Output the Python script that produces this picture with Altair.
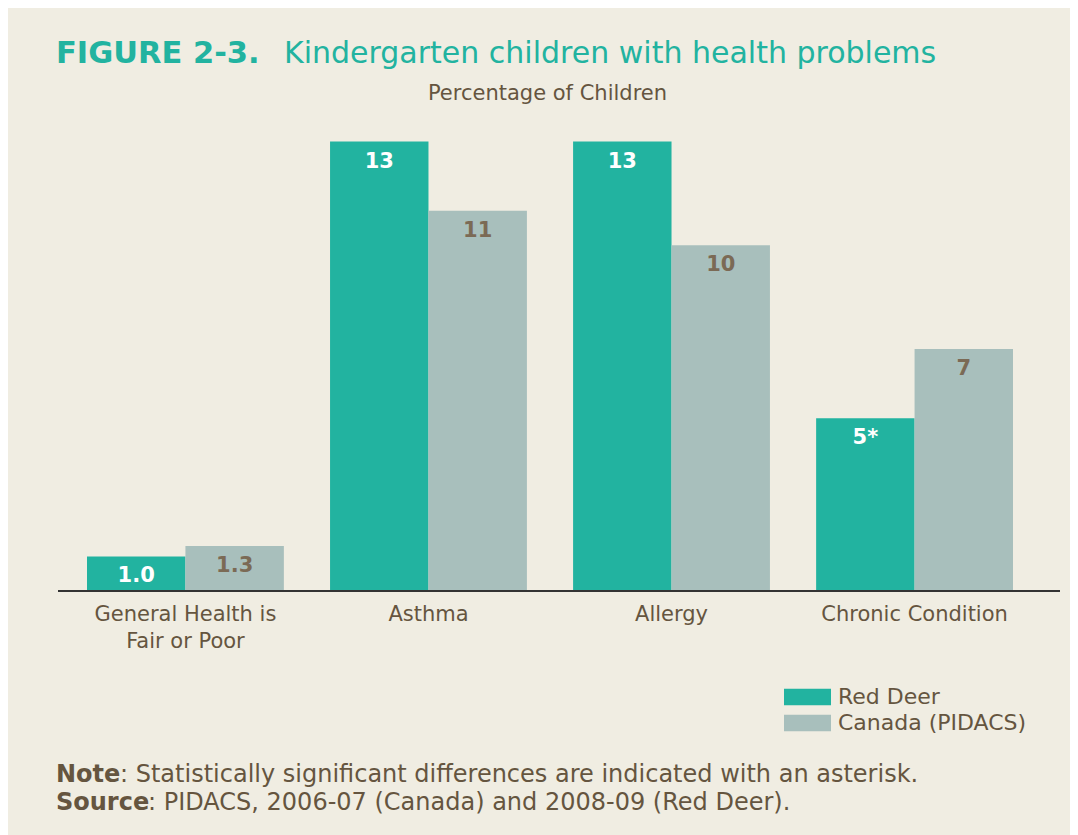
import altair as alt
import pandas as pd

categories = ["General Health is Fair or Poor", "Asthma", "Allergy", "Chronic Condition"]
series = ["Red Deer", "Canada (PIDACS)"]
red_deer = [1.0, 13, 13, 5]
canada = [1.3, 11, 10, 7]
red_deer_labels = ["1.0", "13", "13", "5*"]
canada_labels = ["1.3", "11", "10", "7"]

TEAL = "#22B3A0"
GRAY = "#A8BFBC"
BROWN = "#65553F"
LBROWN = "#7B6A55"
BG = "#F0EDE2"
FONT = "DejaVu Sans"

rows = []
for c, v, l in zip(categories, red_deer, red_deer_labels):
    rows.append({"category": c, "series": series[0], "value": v, "label": l})
for c, v, l in zip(categories, canada, canada_labels):
    rows.append({"category": c, "series": series[1], "value": v, "label": l})
df = pd.DataFrame(rows)

W, H = 1002, 484

xenc = alt.X("category:N", sort=categories, title=None,
             scale=alt.Scale(range=[29, 955], paddingInner=0.19, paddingOuter=0),
             axis=alt.Axis(domain=False, ticks=False, labelFontSize=21, labelColor=BROWN,
                           labelFont=FONT, labelPadding=12, labelLineHeight=27, labelAngle=0,
                           labelLimit=500,
                           labelExpr="datum.value == 'General Health is Fair or Poor' ? ['General Health is', 'Fair or Poor'] : datum.value"))
xoff = alt.XOffset("series:N", sort=series, scale=alt.Scale(paddingInner=0, paddingOuter=0))
yenc = alt.Y("value:Q", scale=alt.Scale(domain=[0, 14], nice=False), axis=None)

bars = alt.Chart(df).mark_bar().encode(
    x=xenc, xOffset=xoff, y=yenc,
    color=alt.Color("series:N", sort=series,
                    scale=alt.Scale(domain=series, range=[TEAL, GRAY]),
                    legend=alt.Legend(title=None, orient="none", legendX=738.5, legendY=579,
                                      symbolType="M-4.7,-1.65H4.7V1.65H-4.7Z", symbolSize=100,
                                      symbolStrokeWidth=0, labelFontSize=22, labelFont=FONT,
                                      labelColor=BROWN, rowPadding=4, labelOffset=19.5,
                                      labelLimit=500, padding=0)),
)

labels = alt.Chart(df).mark_text(fontSize=21, fontWeight="bold", font=FONT, baseline="middle", dy=20).encode(
    x=xenc, xOffset=xoff, y=yenc, text="label:N",
    color=alt.condition(alt.datum.series == "Red Deer", alt.value("white"), alt.value(LBROWN)),
)

baseline = alt.Chart(pd.DataFrame({"v": [0]})).mark_rule(color="#333333", strokeWidth=2).encode(
    y=alt.Y("v:Q", scale=alt.Scale(domain=[0, 14], nice=False), axis=None),
    x=alt.value(0), x2=alt.value(W),
)


def txt(s, x, y, size, color, weight="normal", align="left"):
    return alt.Chart(pd.DataFrame({"t": [s]})).mark_text(
        fontSize=size, font=FONT, fontWeight=weight, color=color, align=align, baseline="alphabetic"
    ).encode(text="t:N", x=alt.value(x), y=alt.value(y))


texts = [
    txt("FIGURE 2-3.", -2, -44, 30.5, TEAL, "bold"),
    txt("Kindergarten children with health problems", 226, -44, 30, TEAL),
    txt("Percentage of Children", 489.5, -7, 21, BROWN, align="center"),
    txt("Note", -2, 675, 24, BROWN, "bold"),
    txt(": Statistically significant differences are indicated with an asterisk.", 62, 675, 24, BROWN),
    txt("Source", -2, 703, 24, BROWN, "bold"),
    txt(": PIDACS, 2006-07 (Canada) and 2008-09 (Red Deer).", 90, 703, 24, BROWN),
]

chart = alt.layer(bars, labels, baseline, *texts).properties(
    width=W, height=H,
    padding={"left": 50, "top": 99, "right": 10, "bottom": 244},
    autosize=alt.AutoSizeParams(type="none"),
    background=BG,
).configure_view(stroke=None)

chart.save("out.html", embed_options={"renderer": "svg", "actions": False})
